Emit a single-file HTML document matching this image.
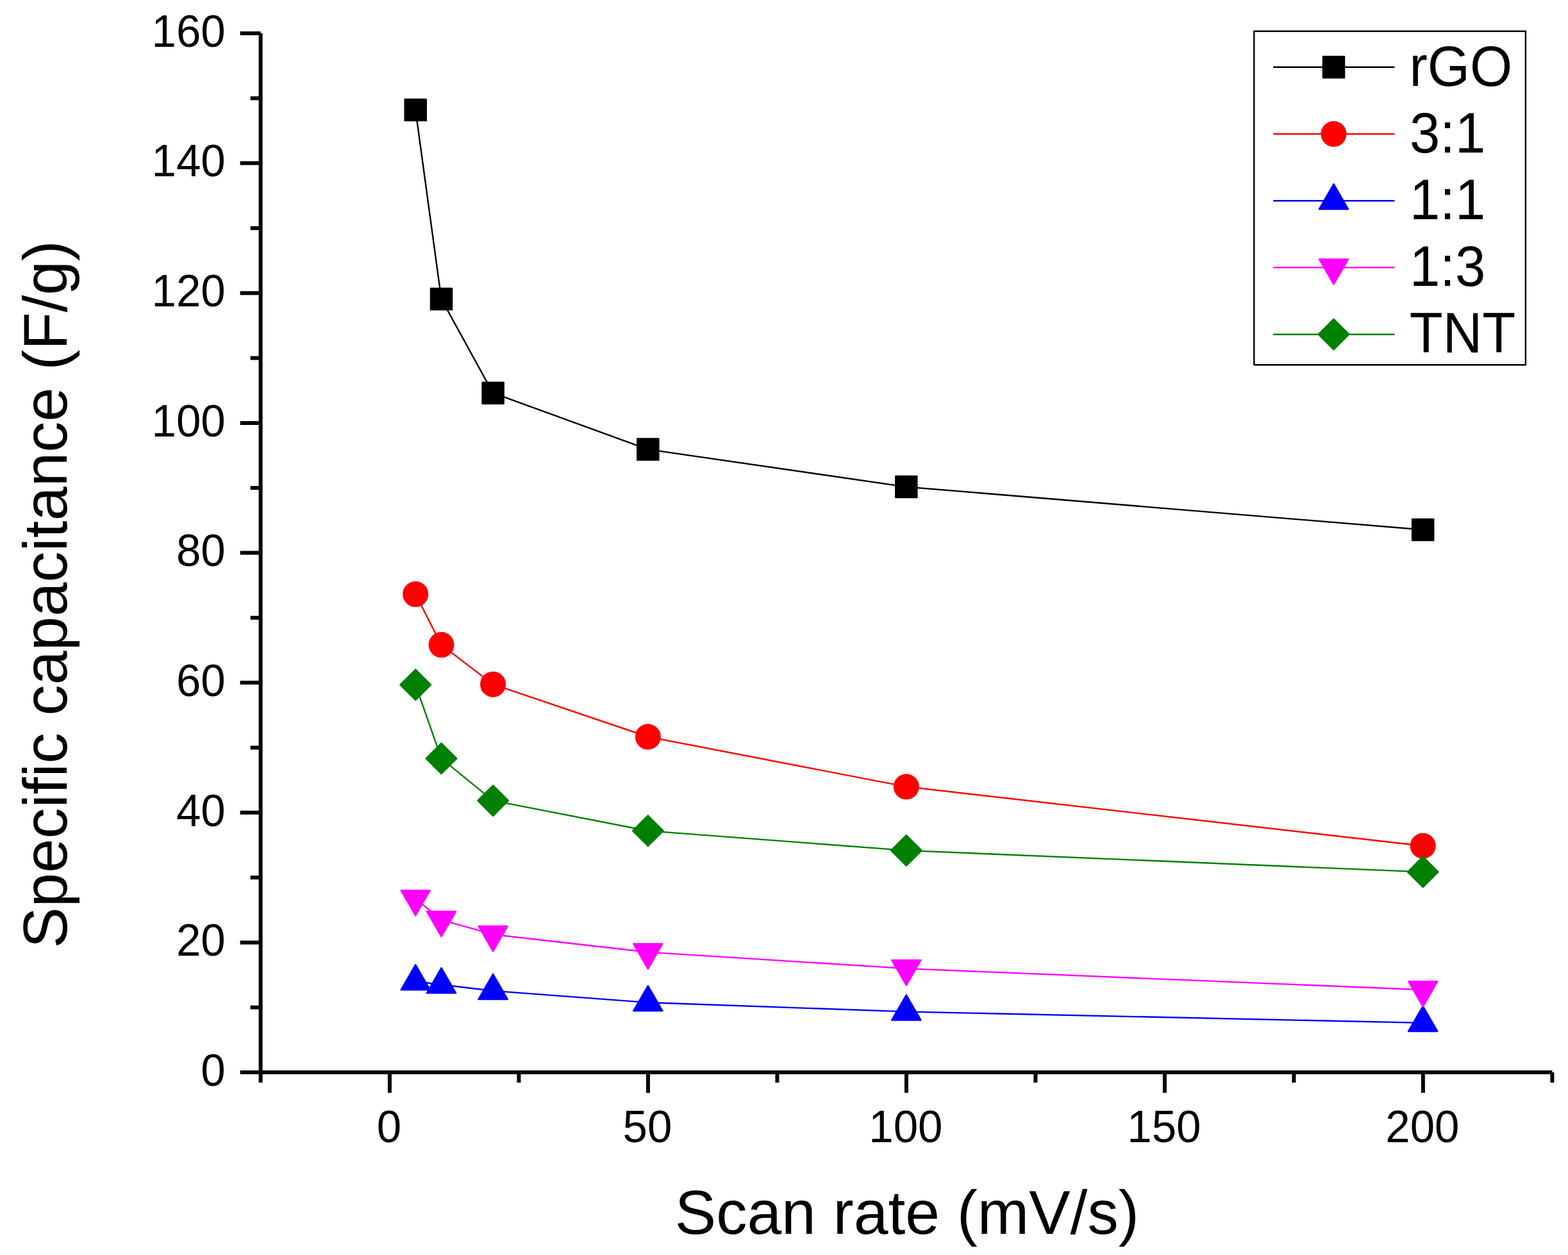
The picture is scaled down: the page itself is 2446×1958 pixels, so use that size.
<!DOCTYPE html>
<html lang="en"><head><meta charset="utf-8"><title>Specific capacitance vs scan rate</title>
<style>html,body{margin:0;padding:0;background:#fff}body{width:2446px;height:1958px;overflow:hidden}svg{display:block}text{font-family:'Liberation Sans', Arial, Helvetica, sans-serif;fill:#000}</style>
</head><body>
<svg width="2446" height="1958" viewBox="0 0 2446 1958" role="img" aria-label="Specific capacitance versus scan rate">
<rect x="0" y="0" width="2446" height="1958" fill="#ffffff"/>
<g>
<polyline points="648.2,171.6 688.5,466.6 769.1,613.2 1010.8,701.1 1413.8,759.6 2219.7,826.5" fill="none" stroke="#000000" stroke-width="2.4" stroke-linejoin="round"/>
<rect x="631.65" y="155.05" width="33.1" height="33.1" fill="#000000" stroke="#000000" stroke-width="2.4" stroke-linejoin="round"/>
<rect x="671.95" y="450.05" width="33.1" height="33.1" fill="#000000" stroke="#000000" stroke-width="2.4" stroke-linejoin="round"/>
<rect x="752.55" y="596.65" width="33.1" height="33.1" fill="#000000" stroke="#000000" stroke-width="2.4" stroke-linejoin="round"/>
<rect x="994.25" y="684.55" width="33.1" height="33.1" fill="#000000" stroke="#000000" stroke-width="2.4" stroke-linejoin="round"/>
<rect x="1397.25" y="743.05" width="33.1" height="33.1" fill="#000000" stroke="#000000" stroke-width="2.4" stroke-linejoin="round"/>
<rect x="2203.15" y="809.95" width="33.1" height="33.1" fill="#000000" stroke="#000000" stroke-width="2.4" stroke-linejoin="round"/>
</g>
<g>
<polyline points="648.2,927 688.5,1006.1 769.1,1067.7 1010.8,1149.5 1413.8,1227.4 2219.7,1319.7" fill="none" stroke="#ff0000" stroke-width="2.4" stroke-linejoin="round"/>
<circle cx="648.2" cy="927" r="18.8" fill="#ff0000" stroke="#ff0000" stroke-width="2.4" stroke-linejoin="round"/>
<circle cx="688.5" cy="1006.1" r="18.8" fill="#ff0000" stroke="#ff0000" stroke-width="2.4" stroke-linejoin="round"/>
<circle cx="769.1" cy="1067.7" r="18.8" fill="#ff0000" stroke="#ff0000" stroke-width="2.4" stroke-linejoin="round"/>
<circle cx="1010.8" cy="1149.5" r="18.8" fill="#ff0000" stroke="#ff0000" stroke-width="2.4" stroke-linejoin="round"/>
<circle cx="1413.8" cy="1227.4" r="18.8" fill="#ff0000" stroke="#ff0000" stroke-width="2.4" stroke-linejoin="round"/>
<circle cx="2219.7" cy="1319.7" r="18.8" fill="#ff0000" stroke="#ff0000" stroke-width="2.4" stroke-linejoin="round"/>
</g>
<g>
<polyline points="648.2,1531.3 688.5,1536.2 769.1,1545.9 1010.8,1564.1 1413.8,1578.4 2219.7,1595.9" fill="none" stroke="#0000ff" stroke-width="2.4" stroke-linejoin="round"/>
<polygon points="648.2,1505.2 670.8,1544.35 625.6,1544.35" fill="#0000ff" stroke="#0000ff" stroke-width="2.4" stroke-linejoin="round"/>
<polygon points="688.5,1510.1 711.1,1549.25 665.9,1549.25" fill="#0000ff" stroke="#0000ff" stroke-width="2.4" stroke-linejoin="round"/>
<polygon points="769.1,1519.8 791.7,1558.95 746.5,1558.95" fill="#0000ff" stroke="#0000ff" stroke-width="2.4" stroke-linejoin="round"/>
<polygon points="1010.8,1538 1033.4,1577.15 988.2,1577.15" fill="#0000ff" stroke="#0000ff" stroke-width="2.4" stroke-linejoin="round"/>
<polygon points="1413.8,1552.3 1436.4,1591.45 1391.2,1591.45" fill="#0000ff" stroke="#0000ff" stroke-width="2.4" stroke-linejoin="round"/>
<polygon points="2219.7,1569.8 2242.3,1608.95 2197.1,1608.95" fill="#0000ff" stroke="#0000ff" stroke-width="2.4" stroke-linejoin="round"/>
</g>
<g>
<polyline points="648.2,1402.3 688.5,1435.1 769.1,1458 1010.8,1485.5 1413.8,1511.1 2219.7,1544.3" fill="none" stroke="#ff00ff" stroke-width="2.4" stroke-linejoin="round"/>
<polygon points="648.2,1428.4 670.8,1389.25 625.6,1389.25" fill="#ff00ff" stroke="#ff00ff" stroke-width="2.4" stroke-linejoin="round"/>
<polygon points="688.5,1461.2 711.1,1422.05 665.9,1422.05" fill="#ff00ff" stroke="#ff00ff" stroke-width="2.4" stroke-linejoin="round"/>
<polygon points="769.1,1484.1 791.7,1444.95 746.5,1444.95" fill="#ff00ff" stroke="#ff00ff" stroke-width="2.4" stroke-linejoin="round"/>
<polygon points="1010.8,1511.6 1033.4,1472.45 988.2,1472.45" fill="#ff00ff" stroke="#ff00ff" stroke-width="2.4" stroke-linejoin="round"/>
<polygon points="1413.8,1537.2 1436.4,1498.05 1391.2,1498.05" fill="#ff00ff" stroke="#ff00ff" stroke-width="2.4" stroke-linejoin="round"/>
<polygon points="2219.7,1570.4 2242.3,1531.25 2197.1,1531.25" fill="#ff00ff" stroke="#ff00ff" stroke-width="2.4" stroke-linejoin="round"/>
</g>
<g>
<polyline points="648.2,1068.3 688.5,1183.4 769.1,1249.1 1010.8,1296.2 1413.8,1326.9 2219.7,1360.4" fill="none" stroke="#008000" stroke-width="2.4" stroke-linejoin="round"/>
<polygon points="648.2,1044.5 672,1068.3 648.2,1092.1 624.4,1068.3" fill="#008000" stroke="#008000" stroke-width="2.4" stroke-linejoin="round"/>
<polygon points="688.5,1159.6 712.3,1183.4 688.5,1207.2 664.7,1183.4" fill="#008000" stroke="#008000" stroke-width="2.4" stroke-linejoin="round"/>
<polygon points="769.1,1225.3 792.9,1249.1 769.1,1272.9 745.3,1249.1" fill="#008000" stroke="#008000" stroke-width="2.4" stroke-linejoin="round"/>
<polygon points="1010.8,1272.4 1034.6,1296.2 1010.8,1320 987,1296.2" fill="#008000" stroke="#008000" stroke-width="2.4" stroke-linejoin="round"/>
<polygon points="1413.8,1303.1 1437.6,1326.9 1413.8,1350.7 1390,1326.9" fill="#008000" stroke="#008000" stroke-width="2.4" stroke-linejoin="round"/>
<polygon points="2219.7,1336.6 2243.5,1360.4 2219.7,1384.2 2195.9,1360.4" fill="#008000" stroke="#008000" stroke-width="2.4" stroke-linejoin="round"/>
</g>
<g stroke="#000" stroke-width="6" fill="none">
<line x1="406.6" y1="52" x2="406.6" y2="1673"/>
<line x1="406.6" y1="1673" x2="2421.4" y2="1673"/>
<line x1="374.6" y1="1673" x2="406.6" y2="1673"/>
<line x1="390.6" y1="1571.69" x2="406.6" y2="1571.69"/>
<line x1="374.6" y1="1470.38" x2="406.6" y2="1470.38"/>
<line x1="390.6" y1="1369.06" x2="406.6" y2="1369.06"/>
<line x1="374.6" y1="1267.75" x2="406.6" y2="1267.75"/>
<line x1="390.6" y1="1166.44" x2="406.6" y2="1166.44"/>
<line x1="374.6" y1="1065.12" x2="406.6" y2="1065.12"/>
<line x1="390.6" y1="963.81" x2="406.6" y2="963.81"/>
<line x1="374.6" y1="862.5" x2="406.6" y2="862.5"/>
<line x1="390.6" y1="761.19" x2="406.6" y2="761.19"/>
<line x1="374.6" y1="659.88" x2="406.6" y2="659.88"/>
<line x1="390.6" y1="558.56" x2="406.6" y2="558.56"/>
<line x1="374.6" y1="457.25" x2="406.6" y2="457.25"/>
<line x1="390.6" y1="355.94" x2="406.6" y2="355.94"/>
<line x1="374.6" y1="254.62" x2="406.6" y2="254.62"/>
<line x1="390.6" y1="153.31" x2="406.6" y2="153.31"/>
<line x1="374.6" y1="52" x2="406.6" y2="52"/>
<line x1="406.6" y1="1673" x2="406.6" y2="1689"/>
<line x1="607.9" y1="1673" x2="607.9" y2="1705"/>
<line x1="809.4" y1="1673" x2="809.4" y2="1689"/>
<line x1="1010.9" y1="1673" x2="1010.9" y2="1705"/>
<line x1="1212.4" y1="1673" x2="1212.4" y2="1689"/>
<line x1="1413.9" y1="1673" x2="1413.9" y2="1705"/>
<line x1="1615.4" y1="1673" x2="1615.4" y2="1689"/>
<line x1="1816.9" y1="1673" x2="1816.9" y2="1705"/>
<line x1="2018.4" y1="1673" x2="2018.4" y2="1689"/>
<line x1="2219.9" y1="1673" x2="2219.9" y2="1705"/>
<line x1="2421.4" y1="1673" x2="2421.4" y2="1689"/>
</g>
<text transform="translate(351.7 1693.8) scale(1 1.03)" font-size="69" text-anchor="end">0</text>
<text transform="translate(351.7 1491.17) scale(1 1.03)" font-size="69" text-anchor="end">20</text>
<text transform="translate(351.7 1288.55) scale(1 1.03)" font-size="69" text-anchor="end">40</text>
<text transform="translate(351.7 1085.92) scale(1 1.03)" font-size="69" text-anchor="end">60</text>
<text transform="translate(351.7 883.3) scale(1 1.03)" font-size="69" text-anchor="end">80</text>
<text transform="translate(351.7 680.67) scale(1 1.03)" font-size="69" text-anchor="end">100</text>
<text transform="translate(351.7 478.05) scale(1 1.03)" font-size="69" text-anchor="end">120</text>
<text transform="translate(351.7 275.43) scale(1 1.03)" font-size="69" text-anchor="end">140</text>
<text transform="translate(351.7 72.8) scale(1 1.03)" font-size="69" text-anchor="end">160</text>
<text transform="translate(606.9 1781.6) scale(1 1.03)" font-size="69" text-anchor="middle">0</text>
<text transform="translate(1009.9 1781.6) scale(1 1.03)" font-size="69" text-anchor="middle">50</text>
<text transform="translate(1412.9 1781.6) scale(1 1.03)" font-size="69" text-anchor="middle">100</text>
<text transform="translate(1815.9 1781.6) scale(1 1.03)" font-size="69" text-anchor="middle">150</text>
<text transform="translate(2218.9 1781.6) scale(1 1.03)" font-size="69" text-anchor="middle">200</text>
<text transform="translate(1414.8 1924.8)" font-size="96.5" text-anchor="middle">Scan rate (mV/s)</text>
<text transform="translate(104.1 927.2) rotate(-90)" font-size="95.96" text-anchor="middle">Specific capacitance (F/g)</text>
<rect x="1956.3" y="48.7" width="423.6" height="520.6" fill="#fff" stroke="#000" stroke-width="2.4" stroke-linejoin="round"/>
<line x1="1986.1" y1="104.8" x2="2175.4" y2="104.8" stroke="#000000" stroke-width="2.4"/>
<rect x="2063.95" y="88.25" width="33.1" height="33.1" fill="#000000" stroke="#000000" stroke-width="2.4" stroke-linejoin="round"/>
<text transform="translate(2198.4 133.6) scale(1 1.035)" font-size="85.1" text-anchor="start">rGO</text>
<line x1="1986.1" y1="209" x2="2175.4" y2="209" stroke="#ff0000" stroke-width="2.4"/>
<circle cx="2080.5" cy="209" r="18.8" fill="#ff0000" stroke="#ff0000" stroke-width="2.4" stroke-linejoin="round"/>
<text transform="translate(2199 237.8) scale(1 1.035)" font-size="85.1" text-anchor="start">3:1</text>
<line x1="1986.1" y1="313.3" x2="2175.4" y2="313.3" stroke="#0000ff" stroke-width="2.4"/>
<polygon points="2080.5,287.2 2103.1,326.35 2057.9,326.35" fill="#0000ff" stroke="#0000ff" stroke-width="2.4" stroke-linejoin="round"/>
<text transform="translate(2199 341.8) scale(1 1.035)" font-size="85.1" text-anchor="start">1:1</text>
<line x1="1986.1" y1="417.4" x2="2175.4" y2="417.4" stroke="#ff00ff" stroke-width="2.4"/>
<polygon points="2080.5,443.5 2103.1,404.35 2057.9,404.35" fill="#ff00ff" stroke="#ff00ff" stroke-width="2.4" stroke-linejoin="round"/>
<text transform="translate(2199 446.3) scale(1 1.035)" font-size="85.1" text-anchor="start">1:3</text>
<line x1="1986.1" y1="521.7" x2="2175.4" y2="521.7" stroke="#008000" stroke-width="2.4"/>
<polygon points="2080.5,497.9 2104.3,521.7 2080.5,545.5 2056.7,521.7" fill="#008000" stroke="#008000" stroke-width="2.4" stroke-linejoin="round"/>
<text transform="translate(2198.8 550.1) scale(1 1.035)" font-size="85.1" text-anchor="start">TNT</text>
</svg>
</body></html>
